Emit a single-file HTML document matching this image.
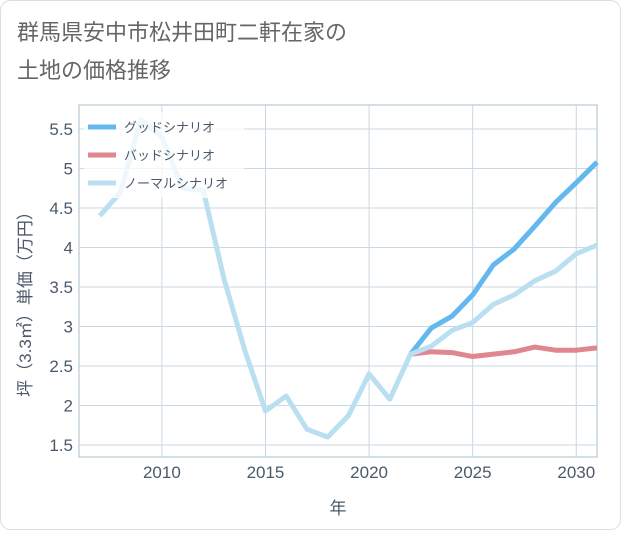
<!DOCTYPE html>
<html><head><meta charset="utf-8"><style>
body{margin:0;background:#fff;font-family:"Liberation Sans","Noto Sans CJK JP",sans-serif}
#wrap{position:relative;width:621px;height:530px}
</style></head><body>
<div id="wrap">
<svg id="chart" width="621" height="530" xmlns="http://www.w3.org/2000/svg">
<rect x="0.5" y="0.5" width="620" height="529" rx="10" fill="#fff" stroke="#ddd"/>
<text x="17" y="40" font-size="22" fill="#666" font-family="Liberation Sans, Noto Sans CJK JP, sans-serif">群馬県安中市松井田町二軒在家の</text>
<text x="17" y="78" font-size="22" fill="#666" font-family="Liberation Sans, Noto Sans CJK JP, sans-serif">土地の価格推移</text>
<g id="grid"></g><g id="series"></g><g id="axes"></g><g id="legend"></g>
</svg>
</div>
<script>
const years=[2007,2008,2009,2010,2011,2012,2013,2014,2015,2016,2017,2018,2019,2020,2021,2022,2023,2024,2025,2026,2027,2028,2029,2030,2031];
const normalVals=[4.4,4.7,5.62,5.4,4.75,4.72,3.6,2.7,1.93,2.12,1.7,1.6,1.87,2.4,2.08,2.65,2.75,2.95,3.05,3.28,3.4,3.58,3.7,3.92,4.03];
const futureYears=[2022,2023,2024,2025,2026,2027,2028,2029,2030,2031];
const goodVals=[2.65,2.98,3.13,3.4,3.78,3.98,4.27,4.57,4.82,5.08];
const badVals=[2.65,2.68,2.67,2.62,2.65,2.68,2.74,2.70,2.70,2.73];
const xTicks=[2010,2015,2020,2025,2030];
const yTicks=[1.5,2,2.5,3,3.5,4,4.5,5,5.5];
const NS="http://www.w3.org/2000/svg";
const L=79,R=597,T=105,B=457;
const x=v=>L+(v-2006)*(R-L)/25;
const y=v=>445-(v-1.5)*(445-129)/4;
function mk(tag,parent,attrs){const e=document.createElementNS(NS,tag);for(const k in attrs)e.setAttribute(k,attrs[k]);document.getElementById(parent).appendChild(e);return e;}
const bg=mk('rect','grid',{x:L,y:T,width:R-L,height:B-T,fill:'#fff',stroke:'#a8bccb'});


yTicks.forEach(t=>{const l=mk('line','grid',{x1:L,x2:R,y1:y(t),y2:y(t),stroke:'#c8d8e4'});


const tx=mk('text','axes',{x:L-6,y:y(t)+6,'text-anchor':'end','font-size':'17',fill:'#4a5a6a'});tx.textContent=String(t);

});
xTicks.forEach(t=>{const l=mk('line','grid',{x1:x(t),x2:x(t),y1:T,y2:B,stroke:'#c8d8e4'});


const tx=mk('text','axes',{x:x(t),y:478,'text-anchor':'middle','font-size':'17',fill:'#4a5a6a'});tx.textContent=String(t);

});
const xt=mk('text','axes',{x:338,y:514,'text-anchor':'middle','font-size':'17',fill:'#4a5a6a'});xt.textContent='年';


const yt=mk('text','axes',{x:0,y:0,'text-anchor':'middle','font-size':'17',fill:'#4a5a6a',transform:'translate(31,300) rotate(-90)'});yt.textContent='坪（3.3㎡）単価（万円）';


function line(xs,vs,color,name){const p=mk('path','series',{d:vs.map((v,i)=>(i?'L':'M')+x(xs[i])+','+y(v)).join(''),fill:'none',stroke:color,'stroke-width':'5','stroke-linejoin':'round'});

}
line(futureYears,badVals,'#e0868e','bad-scenario-line');
line(futureYears,goodVals,'#63b8f0','good-scenario-line');
line(years,normalVals,'#badff0','normal-scenario-line');
const lb=mk('rect','legend',{x:84,y:112,width:160,height:86,fill:'#fff','fill-opacity':'0.75'});


const leg=[['グッドシナリオ','#63b8f0'],['バッドシナリオ','#e0868e'],['ノーマルシナリオ','#badff0']];
leg.forEach((e,i)=>{const yy=127+i*28;
const l=mk('line','legend',{x1:88,x2:116,y1:yy,y2:yy,stroke:e[1],'stroke-width':'5'});


const t=mk('text','legend',{x:124,y:yy+5,'font-size':'13',fill:'#4a5a6a'});t.textContent=e[0];

});
</script>
</body></html>
